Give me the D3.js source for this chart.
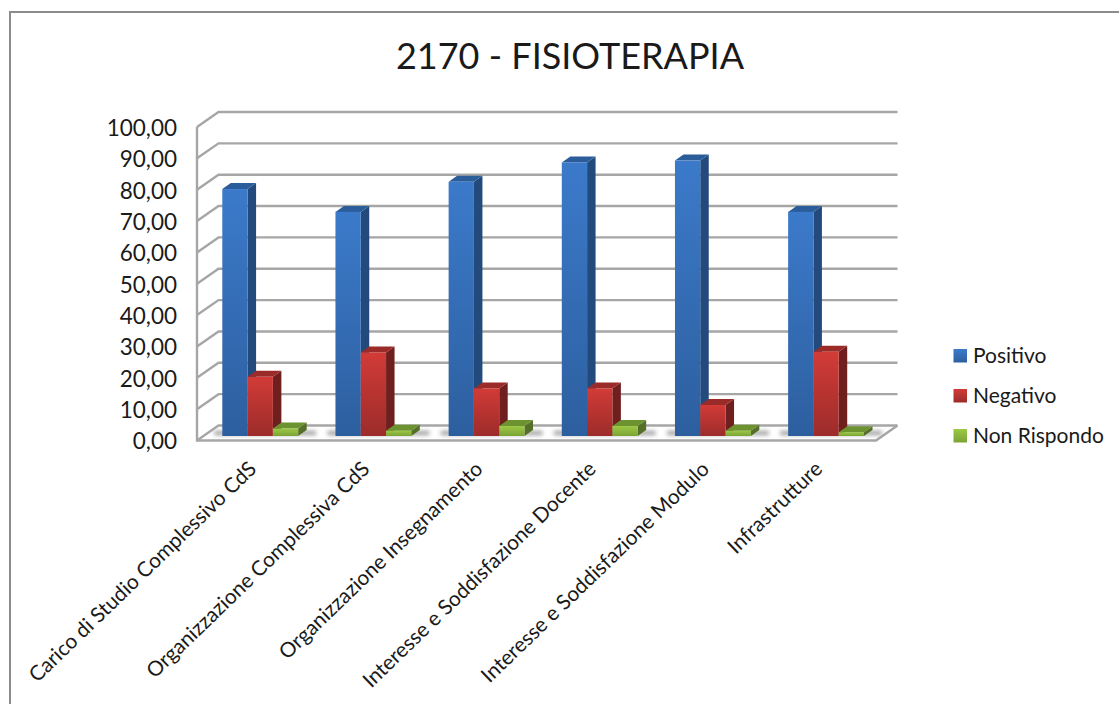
<!DOCTYPE html>
<html>
<head>
<meta charset="utf-8">
<style>
html, body { margin: 0; padding: 0; background: #fff; }
svg { display: block; }
text { font-family: Lato, "Open Sans", sans-serif; fill: #1a1a1a; }
</style>
<script src="https://cdn.jsdelivr.net/npm/d3@7/dist/d3.min.js"></script>
</head>
<body>
<svg id="chart" width="1119" height="704"></svg>
<script>
// Satisfaction results by survey area
const chartTitle = "2170 - FISIOTERAPIA";
const categories = [
  "Carico di Studio Complessivo CdS",
  "Organizzazione Complessiva CdS",
  "Organizzazione Insegnamento",
  "Interesse e Soddisfazione Docente",
  "Interesse e Soddisfazione Modulo",
  "Infrastrutture"
];
const seriesNames = ["Positivo", "Negativo", "Non Rispondo"];
const positivo = [78.9, 71.6, 81.2, 87.4, 88.0, 71.6];
const negativo = [18.9, 26.7, 15.2, 15.2, 9.9, 26.9];
const nonRispondo = [2.4, 1.7, 3.2, 3.2, 1.7, 1.2];
const tickValues = [0, 10, 20, 30, 40, 50, 60, 70, 80, 90, 100];

const seriesValues = [positivo, negativo, nonRispondo];
const palette = [
  { light: "#3b7aca", dark: "#2d5f9f", top: "#2b5d9b", side: "#234a7c" },
  { light: "#d23b37", dark: "#9c2c2a", top: "#9a2b29", side: "#6e1f1e" },
  { light: "#9cc846", dark: "#7ba335", top: "#6d9230", side: "#566f28" }
];

const svg = d3.select("#chart");
const defs = svg.append("defs");

// Vertical shading for the front faces of the bars and legend keys
palette.forEach((c, i) => {
  const g = defs.append("linearGradient").attr("id", "front" + i)
    .attr("x1", 0).attr("y1", 0).attr("x2", 0).attr("y2", 1);
  g.append("stop").attr("offset", "0%").attr("stop-color", c.light);
  g.append("stop").attr("offset", "100%").attr("stop-color", c.dark);
});
defs.append("filter").attr("id", "soft").attr("x", "-20%").attr("y", "-100%")
  .attr("width", "140%").attr("height", "300%")
  .append("feGaussianBlur").attr("stdDeviation", 2.2);

// Outer frame of the chart area, running off the right and bottom edges
svg.append("rect").attr("x", 10).attr("y", 12).attr("width", 1130).attr("height", 760)
  .attr("fill", "#fff").attr("stroke", "#8c8c8c").attr("stroke-width", 2);

// Projection of the 3D box: front plane plus wall offset
const wallDx = 21.5, wallDy = -15;
const x0 = d3.scaleBand().domain(categories).range([197, 876]);
const yFront = d3.scaleLinear().domain([0, 100]).range([440.5, 127]);
const yBar = d3.scaleLinear().domain([0, 100]).range([436, 123]);

const gridColor = "#a6a6a6";
const grid = svg.append("g").attr("fill", "none").attr("stroke", gridColor).attr("stroke-width", 2.4);

// Back wall lines with their slanted return along the side wall
tickValues.forEach(t => {
  const yf = yFront(t);
  grid.append("path").attr("d", d3.line()([
    [197, yf], [197 + wallDx, yf + wallDy], [876 + wallDx, yf + wallDy]
  ]));
});
// Vertical side wall edge and the floor
grid.append("path").attr("d", d3.line()([[197, yFront(100)], [197, yFront(0)], [876, yFront(0)], [876 + wallDx, yFront(0) + wallDy]]));

// Tick labels
svg.append("g").selectAll("text").data(tickValues).join("text")
  .attr("x", 177).attr("y", d => yFront(d) + 1.5).attr("dy", "0.33em")
  .attr("text-anchor", "end").attr("font-size", 22.5)
  .text(d => d3.format(".2f")(d).replace(".", ","));

// Bars
const depthDx = 8.5, depthDy = -6;
const barInset = x0.bandwidth() * 0.2235;
const barW = x0.bandwidth() * 0.2235;

// Soft shadows cast on the floor
svg.append("g").attr("filter", "url(#soft)").selectAll("rect").data(categories).join("rect")
  .attr("x", d => x0(d) + barInset - 8)
  .attr("y", 431).attr("width", barW * 3 + 26).attr("height", 4)
  .attr("fill", "#9a9a9a");

const polygon = pts => "M" + pts.map(p => p.join(",")).join("L") + "Z";

categories.forEach((cat, ci) => {
  const g = svg.append("g");
  seriesValues.forEach((vals, si) => {
    const v = vals[ci];
    const left = x0(cat) + barInset + si * barW;
    const right = left + barW;
    const top = yBar(v), base = yBar(0);
    const c = palette[si];
    g.append("path").attr("fill", c.side).attr("d", polygon([
      [right, top], [right + depthDx, top + depthDy], [right + depthDx, base + depthDy], [right, base]
    ]));
    g.append("path").attr("fill", c.top).attr("d", polygon([
      [left, top], [left + depthDx, top + depthDy], [right + depthDx, top + depthDy], [right, top]
    ]));
    g.append("rect").attr("x", left).attr("y", top).attr("width", barW).attr("height", base - top)
      .attr("fill", "url(#front" + si + ")");
  });
});

// Rotated category labels, anchored at their upper right end
svg.append("g").selectAll("text").data(categories).join("text")
  .attr("text-anchor", "end").attr("font-size", 20.8)
  .attr("transform", d => `translate(${x0(d) + x0.bandwidth() / 2 - 6},${460}) rotate(-44)`)
  .attr("dy", "0.7em")
  .text(d => d);

// Legend
const legendY = [356, 396, 436];
const legend = svg.append("g").selectAll("g").data(seriesNames).join("g")
  .attr("transform", (d, i) => `translate(0,${legendY[i]})`);
legend.append("rect").attr("x", 953.5).attr("y", -7).attr("width", 13.5).attr("height", 13.5)
  .attr("fill", (d, i) => "url(#front" + i + ")");
legend.append("text").attr("x", 973).attr("dy", "0.35em").attr("font-size", 21).text(d => d);

// Title
svg.append("text").attr("x", 570).attr("y", 69).attr("text-anchor", "middle")
  .attr("font-size", 36).text(chartTitle);
</script>
</body>
</html>
